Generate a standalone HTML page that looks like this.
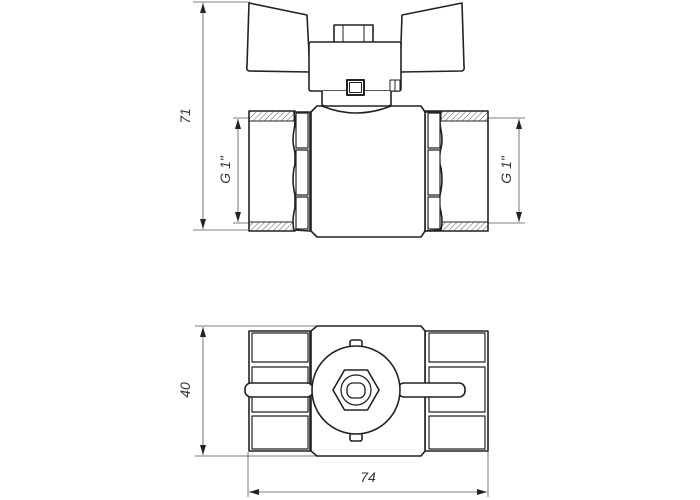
<!DOCTYPE html>
<html><head><meta charset="utf-8"><style>
html,body{margin:0;padding:0;background:#fff;}
svg{display:block;}
text{font-family:"Liberation Sans",sans-serif;font-style:italic;fill:#333;}
</style></head><body>
<svg width="700" height="500" viewBox="0 0 700 500" xmlns="http://www.w3.org/2000/svg">
<defs>
<pattern id="h" width="4" height="4" patternUnits="userSpaceOnUse" patternTransform="rotate(45)">
<line x1="0" y1="0" x2="0" y2="4" stroke="#333" stroke-width="0.8"/></pattern>
<marker id="a" viewBox="0 0 10 6" refX="10" refY="3" markerWidth="10" markerHeight="6" orient="auto-start-reverse" markerUnits="userSpaceOnUse">
<path d="M0,0 L10,3 L0,6 Z" fill="#222"/></marker>
</defs>
<g fill="none" stroke="#555" stroke-width="0.8">
<line x1="193" y1="2" x2="250" y2="2"/>
<line x1="193" y1="230" x2="248" y2="230"/>
<line x1="203" y1="3" x2="203" y2="229" marker-start="url(#a)" marker-end="url(#a)"/>
<line x1="233" y1="118" x2="250" y2="118"/>
<line x1="233" y1="223" x2="250" y2="223"/>
<line x1="238" y1="119" x2="238" y2="222" marker-start="url(#a)" marker-end="url(#a)"/>
<line x1="488" y1="118" x2="525" y2="118"/>
<line x1="488" y1="223" x2="525" y2="223"/>
<line x1="519" y1="119" x2="519" y2="222" marker-start="url(#a)" marker-end="url(#a)"/>
<line x1="195" y1="326" x2="318" y2="326"/>
<line x1="195" y1="456" x2="318" y2="456"/>
<line x1="203" y1="327" x2="203" y2="455" marker-start="url(#a)" marker-end="url(#a)"/>
<line x1="248" y1="452" x2="248" y2="497"/>
<line x1="488" y1="452" x2="488" y2="497"/>
<line x1="249" y1="492" x2="487" y2="492" marker-start="url(#a)" marker-end="url(#a)"/>
</g>
<g font-size="14">
<text transform="translate(190,116) rotate(-90)" text-anchor="middle">71</text>
<text transform="translate(230,170) rotate(-90)" text-anchor="middle">G 1"</text>
<text transform="translate(511,170) rotate(-90)" text-anchor="middle">G 1"</text>
<text transform="translate(190,390) rotate(-90)" text-anchor="middle">40</text>
<text x="368" y="482" text-anchor="middle">74</text>
</g>
<g fill="#fff" stroke="#222" stroke-width="1.6" stroke-linejoin="round">
<path d="M249,3 L307,15 L310,72 L249,71 Q246,70 247,66 Z"/>
<path d="M462,3 L402,15 L400,72 L462,71 Q465,70 464,66 Z"/>
<rect x="334" y="25" width="39" height="18"/>
<line x1="343" y1="25" x2="343" y2="43" stroke-width="1"/>
<line x1="364" y1="25" x2="364" y2="43" stroke-width="1"/>
<rect x="309" y="42" width="92" height="49" rx="2"/>
<rect x="390" y="80" width="10" height="11" stroke-width="1"/>
<line x1="395" y1="80" x2="395" y2="91" stroke-width="1"/>
<path d="M322,91 L322,105 Q356,122 391,105 L391,91"/>
<rect x="347" y="80" width="17" height="15" stroke-width="2"/>
<rect x="349.5" y="82.5" width="12" height="10" stroke-width="1"/>
<rect x="249" y="111" width="46" height="120"/>
<rect x="249" y="111" width="45" height="10" fill="url(#h)" stroke-width="1"/>
<rect x="249" y="222" width="45" height="9" fill="url(#h)" stroke-width="1"/>
<rect x="425" y="111" width="63" height="120"/>
<rect x="441" y="111" width="47" height="10" fill="url(#h)" stroke-width="1"/>
<rect x="441" y="222" width="47" height="9" fill="url(#h)" stroke-width="1"/>
<path d="M294,112 Q296,122 294,130 Q292,140 294,148 Q297,160 294,168 Q292,180 294,190 Q297,202 294,212 Q292,222 294,230 L310,231 L310,112 Z"/>
<rect x="296" y="113" width="12" height="35" stroke-width="1.2"/>
<rect x="296" y="150" width="12" height="45" stroke-width="1.2"/>
<rect x="296" y="197" width="12" height="32" stroke-width="1.2"/>
<path d="M441,112 Q439,122 441,130 Q443,140 441,148 Q438,160 441,168 Q443,180 441,190 Q438,202 441,212 Q443,222 441,230 L425,231 L425,112 Z"/>
<rect x="428" y="113" width="12" height="35" stroke-width="1.2"/>
<rect x="428" y="150" width="12" height="45" stroke-width="1.2"/>
<rect x="428" y="197" width="12" height="32" stroke-width="1.2"/>
<path d="M311,112 L317,106 L421,106 L425,112 L425,231 L421,237 L317,237 L311,231 Z"/>
<path d="M322,106 Q356,120 391,106" fill="none"/>
<rect x="249" y="331" width="61" height="120"/>
<rect x="252" y="333" width="56" height="29" stroke-width="1.2"/>
<rect x="252" y="367" width="56" height="45" stroke-width="1.2"/>
<rect x="252" y="416" width="56" height="33" stroke-width="1.2"/>
<rect x="425" y="331" width="63" height="120"/>
<rect x="429" y="333" width="56" height="29" stroke-width="1.2"/>
<rect x="429" y="367" width="56" height="45" stroke-width="1.2"/>
<rect x="429" y="416" width="56" height="33" stroke-width="1.2"/>
<path d="M311,331 L317,326 L421,326 L425,331 L425,451 L421,456 L317,456 L311,451 Z"/>
<rect x="350" y="340" width="12" height="8" rx="2"/>
<rect x="350" y="433" width="12" height="8" rx="2"/>
<rect x="245" y="383" width="68" height="14" rx="6"/>
<rect x="398" y="383" width="67" height="14" rx="6"/>
<circle cx="356" cy="390" r="44"/>
<polygon points="333,390 344.5,370 367.5,370 379,390 367.5,410 344.5,410"/>
<circle cx="356" cy="390" r="15" stroke-width="1.3"/>
<rect x="347" y="383" width="18" height="15" rx="6" stroke-width="1.3"/>
</g>
</svg>
</body></html>
